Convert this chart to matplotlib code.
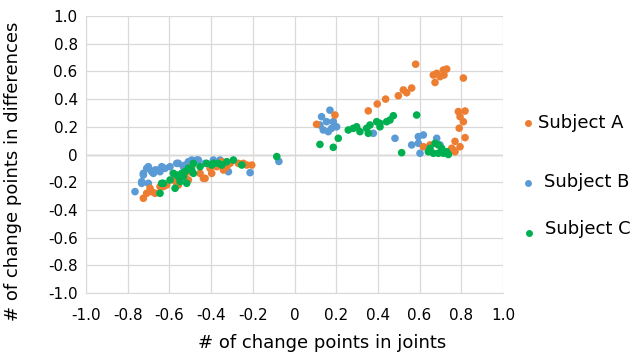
import matplotlib
matplotlib.use("Agg")
import matplotlib.pyplot as plt
from matplotlib.lines import Line2D

# ---- data ----
a_x = [-0.725, -0.685, -0.693, -0.669, -0.645, -0.613, -0.581, -0.565, -0.525, -0.501,
       -0.453, -0.429, -0.405, -0.373, -0.349, -0.325, -0.245, -0.205,
       -0.709, -0.629, -0.557, -0.509, -0.493, -0.437, -0.397, -0.341, -0.309, -0.229, -0.269,
       0.106, 0.194, 0.354, 0.397, 0.437, 0.498, 0.522, 0.538, 0.562, 0.581,
       0.666, 0.674, 0.682, 0.698, 0.714, 0.717, 0.730, 0.810,
       0.786, 0.818, 0.794, 0.810, 0.790, 0.818, 0.770, 0.794, 0.770, 0.754, 0.762,
       0.618, 0.650]
a_y = [-0.316, -0.268, -0.244, -0.280, -0.232, -0.220, -0.184, -0.208, -0.160, -0.124,
       -0.136, -0.172, -0.100, -0.088, -0.052, -0.088, -0.064, -0.076,
       -0.280, -0.232, -0.220, -0.184, -0.088, -0.172, -0.136, -0.112, -0.064, -0.076, -0.064,
       0.218, 0.285, 0.315, 0.365, 0.400, 0.424, 0.466, 0.446, 0.480, 0.652,
       0.574, 0.520, 0.586, 0.562, 0.610, 0.574, 0.617, 0.552,
       0.310, 0.314, 0.273, 0.237, 0.190, 0.122, 0.095, 0.056, 0.020, 0.045, 0.032,
       0.056, 0.069]

b_x = [-0.765, -0.733, -0.725, -0.701, -0.709, -0.685, -0.669, -0.645, -0.637, -0.621,
       -0.597, -0.565, -0.533, -0.501, -0.461, -0.429, -0.357, -0.317, -0.213, -0.701,
       -0.725, -0.733, -0.677, -0.661, -0.557, -0.525, -0.509, -0.493, -0.469, -0.389,
       -0.075,
       0.170, 0.130, 0.122, 0.154, 0.186, 0.202, 0.138, 0.178, 0.162,
       0.378, 0.482, 0.562, 0.594, 0.618, 0.602, 0.594, 0.682, 0.698]
b_y = [-0.268, -0.208, -0.136, -0.088, -0.100, -0.124, -0.112, -0.124, -0.088, -0.100,
       -0.088, -0.064, -0.088, -0.064, -0.040, -0.064, -0.040, -0.124, -0.131, -0.208,
       -0.148, -0.196, -0.136, -0.112, -0.064, -0.076, -0.052, -0.040, -0.040, -0.040,
       -0.050,
       0.320, 0.273, 0.213, 0.237, 0.237, 0.200, 0.177, 0.189, 0.165,
       0.153, 0.117, 0.069, 0.129, 0.141, 0.009, 0.081, 0.117, 0.069]

c_x = [-0.645, -0.637, -0.597, -0.573, -0.565, -0.557, -0.541, -0.525, -0.493, -0.485,
       -0.453, -0.421, -0.389, -0.365, -0.325, -0.293, -0.253,
       -0.629, -0.549, -0.581, -0.533, -0.517, -0.485, -0.397, -0.349, -0.509,
       -0.085,
       0.122, 0.186, 0.210, 0.258, 0.282, 0.298, 0.314, 0.346, 0.354, 0.362, 0.394,
       0.410, 0.442, 0.458, 0.474, 0.410, 0.586, 0.514,
       0.642, 0.666, 0.690, 0.714, 0.730, 0.674, 0.690, 0.706, 0.650, 0.738]
c_y = [-0.280, -0.208, -0.184, -0.244, -0.148, -0.160, -0.136, -0.124, -0.112, -0.064,
       -0.088, -0.064, -0.064, -0.064, -0.052, -0.040, -0.076,
       -0.208, -0.196, -0.136, -0.160, -0.208, -0.136, -0.076, -0.076, -0.100,
       -0.015,
       0.073, 0.052, 0.117, 0.177, 0.189, 0.200, 0.165, 0.189, 0.153, 0.213, 0.237,
       0.200, 0.237, 0.249, 0.280, 0.225, 0.285, 0.013,
       0.020, 0.009, 0.009, 0.009, 0.020, 0.081, 0.069, 0.045, 0.045, 0.000]

labels = ["Subject A", "Subject B", "Subject C"]
ticks = [-1.0, -0.8, -0.6, -0.4, -0.2, 0.0, 0.2, 0.4, 0.6, 0.8, 1.0]
tick_labels = ["-1.0", "-0.8", "-0.6", "-0.4", "-0.2", "0", "0.2", "0.4", "0.6", "0.8", "1.0"]

colors = ["#ED7D31", "#5B9BD5", "#00B050"]

fig = plt.figure(figsize=(6.33, 3.54), dpi=100)
ax = fig.add_axes([0.1359, 0.1723, 0.6587, 0.7825])

for x, y, c in zip([b_x, a_x, c_x], [b_y, a_y, c_y], [colors[1], colors[0], colors[2]]):
    ax.scatter(x, y, s=30, color=c, edgecolors="none", zorder=3)

ax.set_xlim(-1, 1)
ax.set_ylim(-1, 1)
ax.set_xticks(ticks)
ax.set_xticklabels(tick_labels)
ax.set_yticks(ticks)
ax.set_yticklabels(tick_labels)
ax.grid(True, color="#D9D9D9", linewidth=0.9, zorder=0)
ax.axhline(0, color="#BFBFBF", linewidth=1.0, zorder=1)
for s in ax.spines.values():
    s.set_visible(False)
ax.spines["left"].set_visible(True)
ax.spines["left"].set_color("#D9D9D9")
ax.spines["bottom"].set_visible(True)
ax.spines["bottom"].set_color("#D9D9D9")
ax.tick_params(length=0, labelsize=11, colors="#000000")
ax.tick_params(axis="x", pad=11)
ax.tick_params(axis="y", pad=6)
ax.set_xlabel("# of change points in joints", fontsize=13)
ax.set_ylabel("# of change points in differences", fontsize=13)
# label centres: x label at (322, 343) px, y label at (13, 171) px
ax.xaxis.set_label_coords((322 - 86) / 417, -(343 - 293) / 277)
ax.xaxis.label.set_va("center")
ax.yaxis.set_label_coords(-(86 - 13) / 417, 1 - (171 - 16) / 277)
ax.yaxis.label.set_va("center")

# legend (manual placement)
leg_pos = [(528, 123, 538, 123), (528, 183, 544, 182), (529, 233, 545, 229)]
for (mx, my, tx, ty), lab, c in zip(leg_pos, labels, colors):
    fig.add_artist(Line2D([mx / 633], [1 - my / 354], marker="o", markersize=5,
                          color=c, markeredgewidth=0, linestyle="none",
                          transform=fig.transFigure))
    fig.text(tx / 633, 1 - ty / 354, lab, fontsize=13, va="center", ha="left")

fig.savefig("out.png", dpi=100)
